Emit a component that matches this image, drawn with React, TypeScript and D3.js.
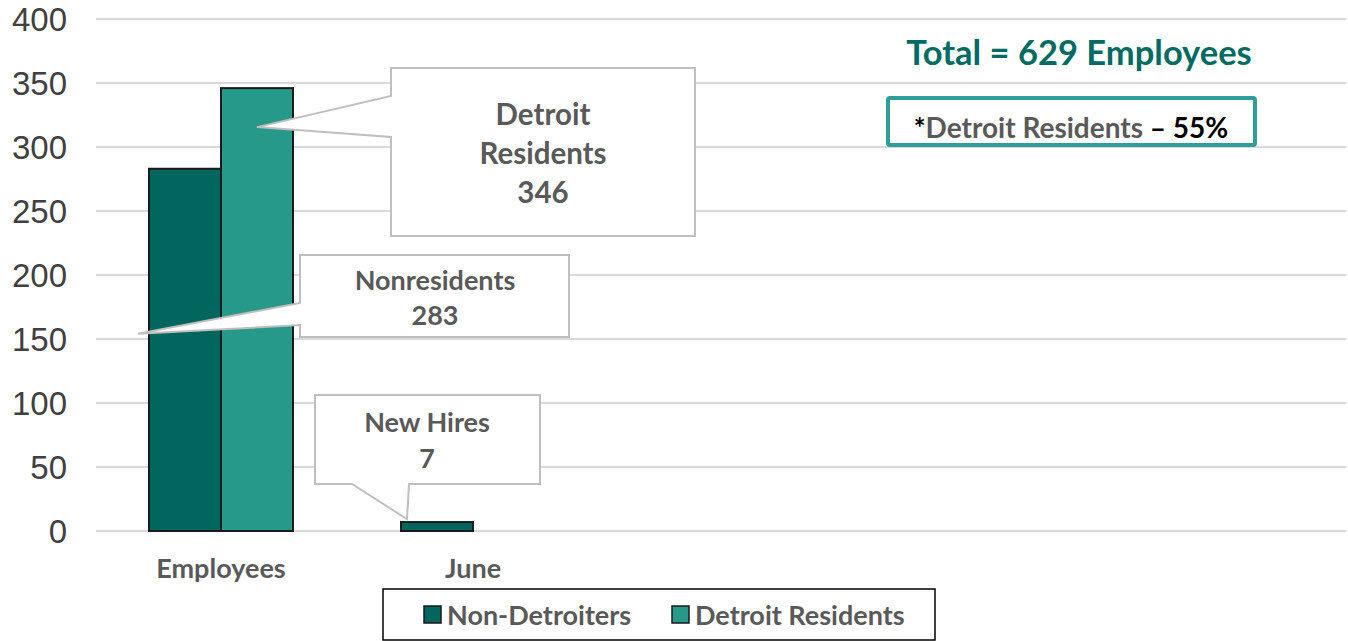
import React from "react";
import * as d3 from "d3";

const categories = ["Employees", "June", "", "", ""];
const seriesNames = ["Non-Detroiters", "Detroit Residents"];
const nonDetroiters: (number | null)[] = [283, 7, null, null, null];
const detroitResidents: (number | null)[] = [346, null, null, null, null];
const yTicks = [0, 50, 100, 150, 200, 250, 300, 350, 400];
const totalLabel = "Total = 629 Employees";
const residentsShare = "55%";

const W = 1348;
const H = 641;
const COLORS = ["#00665E", "#26998A"];
const FONT = "Lato, 'Open Sans', sans-serif";
const GRAY = "#595959";

export default function App() {
  const x = d3.scaleBand<number>().domain(d3.range(categories.length)).range([95, 1355]);
  const y = d3.scaleLinear().domain([0, 400]).range([531, 19]);
  const inner = d3.scaleBand<number>().domain([0, 1]).range([-72, 72]);
  const series = [nonDetroiters, detroitResidents];

  const center = (i: number) => (x(i) as number) + x.bandwidth() / 2;
  const barX = (s: number, i: number) => center(i) + (inner(s) as number);

  // callout anchors derived from bars
  const drX = barX(1, 0) + inner.bandwidth() / 2;
  const drY = y(detroitResidents[0] as number) + 39;
  const nrX = barX(0, 0) - 11;
  const nrY = y(nonDetroiters[0] as number) + 165;
  const nhX = barX(0, 1) + 6;
  const nhY = y(nonDetroiters[1] as number) - 3;

  return (
    <svg width={W} height={H} style={{ position: "absolute", left: 0, top: 0, background: "#fff" }}>
      {yTicks.map((t) => (
        <line key={t} x1={96} x2={1346} y1={y(t)} y2={y(t)} stroke="#D9D9D9" strokeWidth={2} />
      ))}
      {yTicks.map((t) => (
        <text key={"l" + t} x={67} y={y(t)} dy="0.36em" textAnchor="end" fontFamily="'Liberation Sans', Arial, sans-serif" fontSize={33} fill="#404040">
          {t}
        </text>
      ))}
      {series.map((vals, s) =>
        vals.map((v, i) =>
          v == null ? null : (
            <rect key={s + "-" + i} x={barX(s, i)} y={y(v)} width={inner.bandwidth()} height={y(0) - y(v)} fill={COLORS[s]} stroke="#1a1a1a" strokeWidth={2} />
          )
        )
      )}
      {categories.map((c, i) => (
        <text key={"c" + i} x={center(i)} y={578} textAnchor="middle" fontFamily={FONT} fontWeight={700} fontSize={27} fill={GRAY}>
          {c}
        </text>
      ))}

      <path d={`M391,68 H695 V236 H391 V137 L${drX},${drY} L391,96 Z`} fill="#fff" stroke="#BFBFBF" strokeWidth={2} />
      <g fontFamily={FONT} fontWeight={700} fontSize={29.5} fill={GRAY} textAnchor="middle">
        <text x={543} y={125}>Detroit</text>
        <text x={543} y={164}>Residents</text>
        <text x={543} y={203}>{detroitResidents[0]}</text>
      </g>

      <path d={`M300,255 H569 V337 H300 V325 L${nrX},${nrY} L300,303 Z`} fill="#fff" stroke="#BFBFBF" strokeWidth={2} />
      <g fontFamily={FONT} fontWeight={700} fontSize={27} fill={GRAY} textAnchor="middle">
        <text x={435} y={290}>Nonresidents</text>
        <text x={435} y={325}>{nonDetroiters[0]}</text>
      </g>

      <path d={`M315,395 H540 V484 H409 L${nhX},${nhY} L352,484 H315 Z`} fill="#fff" stroke="#BFBFBF" strokeWidth={2} />
      <g fontFamily={FONT} fontWeight={700} fontSize={27} fill={GRAY} textAnchor="middle">
        <text x={427} y={432}>New Hires</text>
        <text x={427} y={468}>{nonDetroiters[1]}</text>
      </g>

      <text x={1079} y={65} textAnchor="middle" fontFamily={FONT} fontWeight={700} fontSize={34.5} fill="#006B63">
        {totalLabel}
      </text>
      <rect x={888} y={98} width={367} height={47} rx={2} fill="#fff" stroke="#2E9E98" strokeWidth={4} />
      <text x={1071} y={138} textAnchor="middle" fontFamily={FONT} fontWeight={700} fontSize={28}>
        <tspan fill="#000">*</tspan>
        <tspan fill={GRAY}>Detroit Residents</tspan>
        <tspan fill="#000"> – {residentsShare}</tspan>
      </text>

      <rect x={383} y={589} width={552} height={51} fill="#fff" stroke="#000" strokeWidth={1.5} />
      {seriesNames.map((n, s) => {
        const lx = s === 0 ? 424 : 672;
        return (
          <g key={n}>
            <rect x={lx} y={606} width={17} height={17} fill={COLORS[s]} stroke="#1a1a1a" strokeWidth={1.5} />
            <text x={lx + 23} y={625} fontFamily={FONT} fontWeight={700} fontSize={27} fill={GRAY}>
              {n}
            </text>
          </g>
        );
      })}
    </svg>
  );
}
